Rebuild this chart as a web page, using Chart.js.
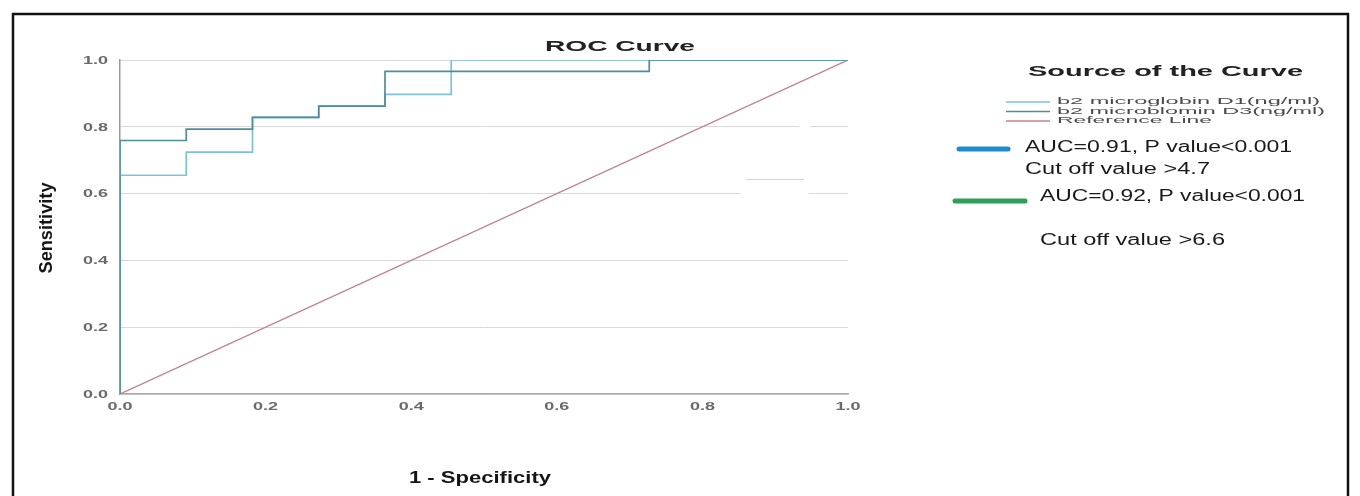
<!DOCTYPE html>
<html>
<head>
<meta charset="utf-8">
<script src="https://cdn.jsdelivr.net/npm/chart.js@4/dist/chart.umd.min.js"></script>
<style>
html,body{margin:0;padding:0;background:#fff;}
#wrap{width:1360px;height:496px;position:relative;}
</style>
</head>
<body>
<div id="wrap"><canvas id="c" width="1360" height="496"></canvas></div>
<script>
// ---- data ----
const chartTitle = 'ROC Curve';
const xAxisTitle = '1 - Specificity';
const yAxisTitle = 'Sensitivity';
const legendTitle = 'Source of the Curve';
const seriesNames = ['b2 microglobin D1(ng/ml)', 'b2 microblomin D3(ng/ml)', 'Reference Line'];
const d1Fpr = [0, 0, 0.091, 0.091, 0.182, 0.182, 0.273, 0.273, 0.364, 0.364, 0.455, 0.455, 1];
const d1Tpr = [0, 0.655, 0.655, 0.724, 0.724, 0.828, 0.828, 0.862, 0.862, 0.897, 0.897, 1, 1];
const d3Fpr = [0, 0, 0.091, 0.091, 0.182, 0.182, 0.273, 0.273, 0.364, 0.364, 0.727, 0.727, 1];
const d3Tpr = [0, 0.759, 0.759, 0.793, 0.793, 0.828, 0.828, 0.862, 0.862, 0.966, 0.966, 1, 1];
const refX = [0, 1];
const refY = [0, 1];
const tickValues = [0, 0.2, 0.4, 0.6, 0.8, 1.0];
const annotations1 = ['AUC=0.91, P value<0.001', 'Cut off value >4.7'];
const annotations2 = ['AUC=0.92, P value<0.001', 'Cut off value >6.6'];

const pts = (xs, ys) => xs.map((x, i) => ({x: x, y: ys[i]}));

function fitText(ctx, text, x, y, font, color, width, align) {
  ctx.save();
  ctx.font = font;
  ctx.fillStyle = color;
  ctx.textBaseline = 'middle';
  ctx.textAlign = 'left';
  const w = ctx.measureText(text).width;
  const s = width ? width / w : 1;
  ctx.translate(x, y);
  ctx.scale(s, 1);
  let x0 = 0;
  if (align === 'center') x0 = -w / 2;
  else if (align === 'right') x0 = -w;
  ctx.fillText(text, x0, 0);
  ctx.restore();
}

const COL_D1 = '#7cc3da';
const COL_D3 = '#4d8e9d';
const COL_REF = '#c4818f';

const decorPlugin = {
  id: 'decor',
  beforeDatasetsDraw(chart) {
    const ctx = chart.ctx, xs = chart.scales.x, ys = chart.scales.y;
    ctx.save();
    ctx.fillStyle = '#ffffff';
    const gap = (y, a, b) => {
      const py = ys.getPixelForValue(y);
      ctx.fillRect(xs.getPixelForValue(a), py - 1.5, xs.getPixelForValue(b) - xs.getPixelForValue(a), 3);
    };
    gap(0.8, 0.933, 0.948);
    gap(0.6, 0.852, 0.946);
    ctx.strokeStyle = '#d6d6d6';
    ctx.lineWidth = 1;
    const py = Math.round(ys.getPixelForValue(0.643)) + 0.5;
    ctx.beginPath();
    ctx.moveTo(xs.getPixelForValue(0.860), py);
    ctx.lineTo(xs.getPixelForValue(0.940), py);
    ctx.stroke();
    ctx.restore();
  },
  afterDraw(chart) {
    const ctx = chart.ctx, xs = chart.scales.x, ys = chart.scales.y;
    const tickFont = 'bold 10px "Liberation Sans", Arial, sans-serif';
    ys.ticks.forEach(t => {
      const p = ys.getPixelForValue(t.value);
      fitText(ctx, t.value.toFixed(1), 108, p + 1, tickFont, '#6a6a6a', 25, 'right');
    });
    xs.ticks.forEach(t => {
      const p = xs.getPixelForValue(t.value);
      fitText(ctx, t.value.toFixed(1), p, 407, tickFont, '#6a6a6a', 25, 'center');
    });
    // titles
    fitText(ctx, chartTitle, 620, 47, 'bold 14px "Liberation Sans", Arial, sans-serif', '#222', 150, 'center');
    fitText(ctx, xAxisTitle, 480, 478, 'bold 17px "Liberation Sans", Arial, sans-serif', '#151515', 142, 'center');
    ctx.save();
    ctx.translate(47, 228);
    ctx.rotate(-Math.PI / 2);
    fitText(ctx, yAxisTitle, 0, 0, 'bold 19px "Liberation Sans Narrow", "Liberation Sans", Arial, sans-serif', '#151515', 91, 'center');
    ctx.restore();

    // legend
    fitText(ctx, legendTitle, 1028, 72, 'bold 14px "Liberation Sans", Arial, sans-serif', '#222', 275, 'left');
    const legCols = [COL_D1, COL_D3, COL_REF];
    const legY = [102, 111.5, 121];
    const legW = [263, 268, 155];
    seriesNames.forEach((n, i) => {
      ctx.save();
      ctx.strokeStyle = legCols[i];
      ctx.lineWidth = 1.3;
      ctx.beginPath();
      ctx.moveTo(1006, legY[i]);
      ctx.lineTo(1050, legY[i]);
      ctx.stroke();
      ctx.restore();
      fitText(ctx, n, 1057, legY[i], '9px "Liberation Sans", Arial, sans-serif', '#4a4a4a', legW[i], 'left');
    });

    ctx.save();
    ctx.lineCap = 'round';
    ctx.lineWidth = 5;
    ctx.strokeStyle = '#1f8bcb';
    ctx.beginPath(); ctx.moveTo(959, 149); ctx.lineTo(1008, 149); ctx.stroke();
    ctx.strokeStyle = '#2f9e57';
    ctx.beginPath(); ctx.moveTo(955, 201); ctx.lineTo(1025, 201); ctx.stroke();
    ctx.restore();
    const aFont = '16px "Liberation Sans", Arial, sans-serif';
    fitText(ctx, annotations1[0], 1025, 148, aFont, '#1a1a1a', 267, 'left');
    fitText(ctx, annotations1[1], 1025, 170, aFont, '#1a1a1a', 185, 'left');
    fitText(ctx, annotations2[0], 1040, 197, aFont, '#1a1a1a', 265, 'left');
    fitText(ctx, annotations2[1], 1040, 241, aFont, '#1a1a1a', 185, 'left');

    // outer frame
    ctx.save();
    ctx.strokeStyle = '#111';
    ctx.lineWidth = 2.5;
    ctx.beginPath();
    ctx.moveTo(13, 500);
    ctx.lineTo(13, 14);
    ctx.lineTo(1348, 14);
    ctx.lineTo(1348, 500);
    ctx.stroke();
    ctx.restore();
  }
};

new Chart(document.getElementById('c'), {
  type: 'scatter',
  data: {
    datasets: [
      {label: seriesNames[2], data: pts(refX, refY), showLine: true, borderColor: COL_REF, borderWidth: 1.3, pointRadius: 0, order: 3},
      {label: seriesNames[0], data: pts(d1Fpr, d1Tpr), showLine: true, borderColor: COL_D1, borderWidth: 1.7, pointRadius: 0, order: 2},
      {label: seriesNames[1], data: pts(d3Fpr, d3Tpr), showLine: true, borderColor: COL_D3, borderWidth: 1.7, pointRadius: 0, order: 1}
    ]
  },
  options: {
    responsive: false,
    animation: false,
    devicePixelRatio: 1,
    layout: {padding: {left: 0, top: 60, right: 512, bottom: 0}},
    plugins: {legend: {display: false}, tooltip: {enabled: false}, title: {display: false}},
    scales: {
      x: {
        type: 'linear', min: 0, max: 1,
        afterBuildTicks: s => { s.ticks = tickValues.map(v => ({value: v})); },
        afterFit: s => { s.height = 102; },
        ticks: {display: false},
        grid: {display: false, drawTicks: false},
        border: {display: true, color: '#a9a9a9', width: 1.5}
      },
      y: {
        type: 'linear', min: 0, max: 1,
        afterBuildTicks: s => { s.ticks = tickValues.map(v => ({value: v})); },
        afterFit: s => { s.width = 120; },
        ticks: {display: false},
        grid: {display: true, color: '#d9d9d9', lineWidth: 1, drawTicks: false},
        border: {display: true, color: '#9a9a9a', width: 1.5}
      }
    }
  },
  plugins: [decorPlugin]
});
</script>
</body>
</html>
